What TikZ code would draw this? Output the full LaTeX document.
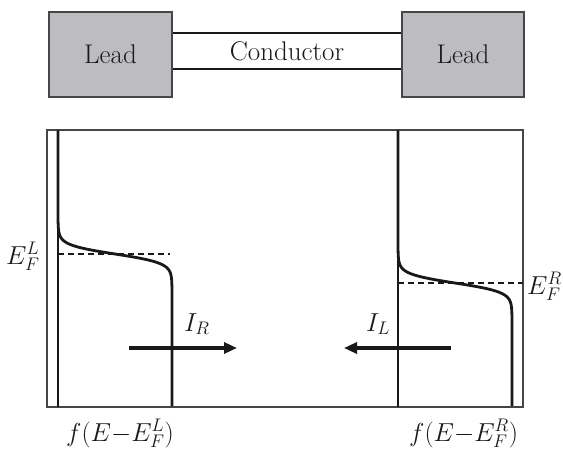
\RequirePackage{fix-cm}
\documentclass[tikz,border=0pt]{standalone}
\usetikzlibrary{arrows.meta}
\definecolor{leadgray}{RGB}{189,189,193}
\definecolor{edgegray}{RGB}{70,70,70}
\definecolor{ink}{RGB}{25,25,25}
\begin{document}
\begin{tikzpicture}[x=1pt,y=-1pt,
  every node/.style={inner sep=0pt, text=ink},
  txt/.style={font=\fontsize{27}{31}\selectfont},
  mathlbl/.style={anchor=base west, font=\fontsize{26}{30}\selectfont},
  leadbox/.style={txt, draw=edgegray, line width=1.3pt, fill=leadgray},
  condbox/.style={txt, draw=ink, line width=1.2pt, fill=white},
  frame/.style={draw=edgegray, line width=1.6pt},
  thinline/.style={draw=ink, line width=1.1pt},
  fermi/.style={draw=ink, line width=2.8pt, line join=round},
  level/.style={draw=ink, line width=1.1pt, dash pattern=on 6pt off 4pt},
  flow/.style={draw=ink, line width=3.2pt, -{Triangle[length=13pt,width=11pt]}}
]
\useasboundingbox (0,0) rectangle (563,451);

% top: leads and conductor
\node[condbox, minimum width=230pt, minimum height=36pt] (cond) at (287,51) {Conductor};
\node[leadbox, minimum width=123pt, minimum height=85pt] (leadL) at (110.5,54.5) {Lead};
\node[leadbox, minimum width=122pt, minimum height=85pt] (leadR) at (463,54.5) {Lead};

% bottom frame
\node[frame, minimum width=476pt, minimum height=277pt] (box) at (285,268.5) {};

% axis lines of the two distributions
\coordinate (aLt) at (58,130);
\coordinate (aLb) at (58,407);
\coordinate (aRt) at (398,130);
\coordinate (aRb) at (398,407);
\draw[thinline] (aLt) -- (aLb);
\draw[thinline] (aRt) -- (aRb);

% Fermi functions
\draw[fermi] (58,131) -- plot[domain=214:294, samples=150] ({58+114/(1+exp(-(\x-254)/4.5))},\x) -- (172,406);
\draw[fermi] (398,131) -- plot[domain=243:323, samples=150] ({398+114/(1+exp(-(\x-283)/4.5))},\x) -- (512,406);

% Fermi levels
\coordinate (fL1) at (58,254);
\coordinate (fL2) at (170,254);
\coordinate (fR1) at (398,283);
\coordinate (fR2) at (523,283);
\draw[level] (fL1) -- (fL2);
\draw[level] (fR1) -- (fR2);

% currents
\coordinate (irs) at (129,348);
\coordinate (ire) at (237,348);
\coordinate (ils) at (451,348);
\coordinate (ile) at (344,348);
\draw[flow] (irs) -- (ire);
\draw[flow] (ils) -- (ile);

% labels
\node[mathlbl] (IR) at (184,331) {$I_R$};
\node[mathlbl] (IL) at (366,331) {$I_L$};
\node[mathlbl] (EFL) at (6,264) {$E_F^L$};
\node[mathlbl] (EFR) at (527,294) {$E_F^R$};
\node[mathlbl] (fL) at (66,441) {$f(E{-}E_F^L)$};
\node[mathlbl] (fR) at (409,441) {$f(E{-}E_F^R)$};
\end{tikzpicture}
\end{document}
